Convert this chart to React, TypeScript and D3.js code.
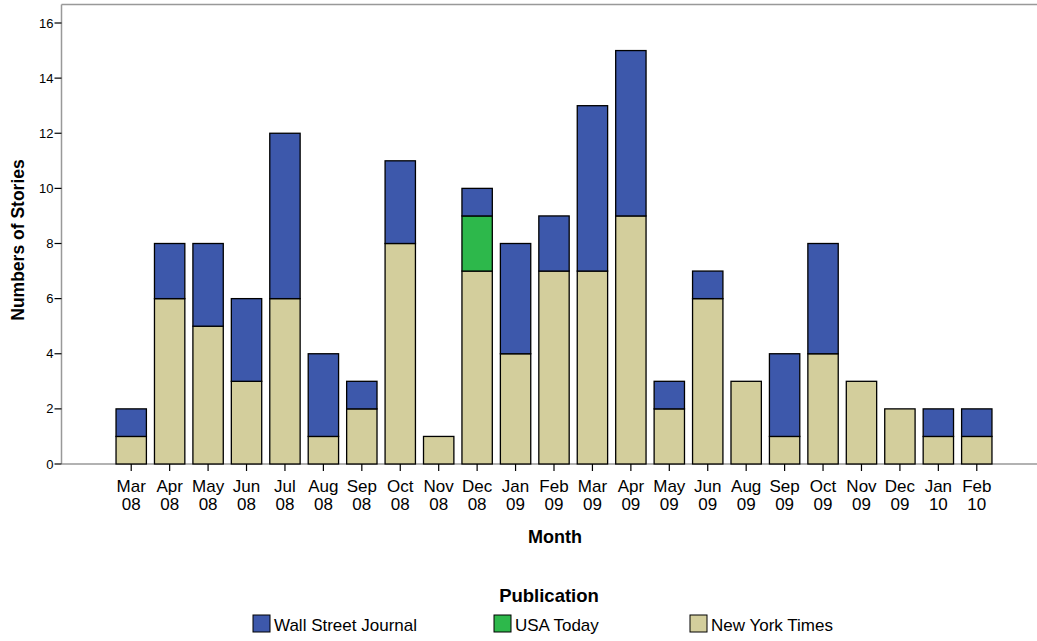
import React from "react";
import * as d3 from "d3";

const months = ["Mar 08","Apr 08","May 08","Jun 08","Jul 08","Aug 08","Sep 08","Oct 08","Nov 08","Dec 08","Jan 09","Feb 09","Mar 09","Apr 09","May 09","Jun 09","Aug 09","Sep 09","Oct 09","Nov 09","Dec 09","Jan 10","Feb 10"];
const nyt = [1,6,5,3,6,1,2,8,1,7,4,7,7,9,2,6,3,1,4,3,2,1,1];
const usa = [0,0,0,0,0,0,0,0,0,2,0,0,0,0,0,0,0,0,0,0,0,0,0];
const wsj = [1,2,3,3,6,3,1,3,0,1,4,2,6,6,1,1,0,3,4,0,0,1,1];
const yTicks = [0,2,4,6,8,10,12,14,16];
const seriesNames = ["Wall Street Journal","USA Today","New York Times"];
const seriesColors = ["#3d58ab","#2db84b","#d3ce9c"];

export default function App() {
  const W = 1037, H = 641;
  const left = 61.5, top = 4.5, bottom = 464;
  const x = d3.scaleBand().domain(months).range([112, 996]).paddingInner(0.21).paddingOuter(0.105);
  const y = d3.scaleLinear().domain([0, 16]).range([bottom, 23]);
  const font = "'Liberation Sans', Arial, sans-serif";
  const keys = ["nyt","usa","wsj"];
  const rows = months.map((m, i) => ({ m, nyt: nyt[i], usa: usa[i], wsj: wsj[i] }));
  const stack = d3.stack<any>().keys(keys)(rows);
  const colorByKey: Record<string,string> = { nyt: seriesColors[2], usa: seriesColors[1], wsj: seriesColors[0] };
  const legendX = [253, 494, 690];
  return (
    <svg width={W} height={H} style={{ position: "absolute", left: 0, top: 0 }} fontFamily={font}>
      <rect x={0} y={0} width={W} height={H} fill="#fff" />
      <line x1={left} x2={W} y1={top} y2={top} stroke="#999" strokeWidth={1.5} />
      <line x1={left} x2={left} y1={top} y2={bottom} stroke="#999" strokeWidth={1.5} />
      <line x1={left} x2={W} y1={bottom} y2={bottom} stroke="#999" strokeWidth={1.5} />
      {yTicks.map(t => (
        <g key={t}>
          <line x1={left - 7} x2={left} y1={y(t)} y2={y(t)} stroke="#000" strokeWidth={1.2} />
          <text x={left - 8} y={y(t)} dy="0.35em" textAnchor="end" fontSize={13} fill="#000">{t}</text>
        </g>
      ))}
      {stack.map(s => s.map((d, i) => d[1] > d[0] ? (
        <rect key={s.key + i} x={x(months[i])!} width={x.bandwidth()} y={y(d[1])} height={y(d[0]) - y(d[1])}
          fill={colorByKey[s.key]} stroke="#000" strokeWidth={1.3} />
      ) : null))}
      {months.map(m => {
        const cx = x(m)! + x.bandwidth() / 2;
        const [a, b] = m.split(" ");
        return (
          <g key={m}>
            <line x1={cx} x2={cx} y1={bottom} y2={bottom + 7} stroke="#000" strokeWidth={1.2} />
            <text x={cx} y={492} textAnchor="middle" fontSize={17} fill="#000">{a}</text>
            <text x={cx} y={510} textAnchor="middle" fontSize={17} fill="#000">{b}</text>
          </g>
        );
      })}
      <text x={555} y={543} textAnchor="middle" fontSize={18} fontWeight="bold">Month</text>
      <text transform={`translate(24,${240}) rotate(-90)`} textAnchor="middle" fontSize={17.5} fontWeight="bold">Numbers of Stories</text>
      <text x={549} y={602} textAnchor="middle" fontSize={18.5} fontWeight="bold">Publication</text>
      {seriesNames.map((n, i) => (
        <g key={n}>
          <rect x={legendX[i]} y={615} width={17} height={17} fill={seriesColors[i]} stroke="#000" strokeWidth={1} />
          <text x={legendX[i] + 21} y={631} fontSize={17}>{n}</text>
        </g>
      ))}
    </svg>
  );
}
